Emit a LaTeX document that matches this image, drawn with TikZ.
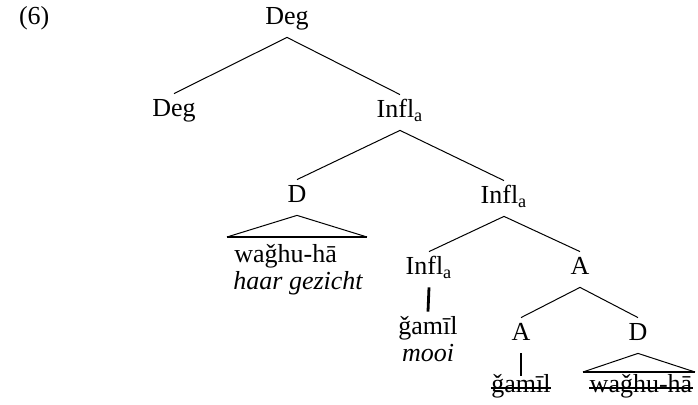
\documentclass[tikz,border=0pt]{standalone}
\usepackage{fontspec}
\setmainfont{Liberation Serif}

\begin{document}
\begin{tikzpicture}[x=0.5pt,y=-0.5pt,
    font=\fontsize{13}{15}\selectfont,
    cat/.style={anchor=base, inner xsep=0pt, inner ysep=3pt, text height=8.5pt, text depth=3pt},
    word/.style={anchor=base, inner xsep=0pt, inner ysep=3pt, text height=8.5pt, text depth=3pt},
    branch/.style={line width=0.5pt},
    stem/.style={line width=1.4pt},
    triabase/.style={line width=1.1pt},
    struck/.style={line width=1.1pt}]
  \useasboundingbox (0,0) rectangle (698,405);

  \node[anchor=base west] (ex) at (12,25) {(6)};

  \node[cat] (deg0) at (287,25) {Deg};
  \node[cat] (deg1) at (174,117) {Deg};
  \node[cat] (infl1) at (400,118) {Infl\textsubscript{a}};
  \node[cat] (d1) at (297,203) {D};
  \node[cat] (infl2) at (504,204) {Infl\textsubscript{a}};
  \node[cat] (infl3) at (429,275) {Infl\textsubscript{a}};
  \node[cat] (a1) at (580,275) {A};
  \node[cat] (a2) at (521,341) {A};
  \node[cat] (d2) at (638,341) {D};

  \node[word, anchor=base west] (w1) at (234,263) {waǧhu-hā};
  \node[word, anchor=base west] (w1gl) at (233,290) {\itshape haar gezicht};
  \node[word] (g1) at (428,335) {ǧamīl};
  \node[word] (g1gl) at (428,362) {\itshape mooi};
  \node[word] (g2) at (521,393) {ǧamīl};
  \node[word] (w2) at (641,393) {waǧhu-hā};

  % branches
  \draw[branch] (deg0.south) -- (deg1.north);
  \draw[branch] (deg0.south) -- (infl1.north);
  \draw[branch] (infl1.south) -- (d1.north);
  \draw[branch] (infl1.south) -- (infl2.north);
  \draw[branch] (infl2.south) -- (infl3.north);
  \draw[branch] (infl2.south) -- (a1.north);
  \draw[branch] (a1.south) -- (a2.north);
  \draw[branch] (a1.south) -- (d2.north);

  \draw[stem] (infl3.south) -- (g1.north);
  \draw[stem, shorten >=-3pt] (a2.south) -- (g2.north);

  % triangles
  \coordinate (t1l) at (227,237);
  \coordinate (t1r) at (367,237);
  \draw[branch] (t1l) -- (d1.south) -- (t1r);
  \draw[triabase] (t1l) -- (t1r);

  \coordinate (t2l) at (583,372);
  \coordinate (t2r) at (695,372);
  \draw[branch] (t2l) -- (d2.south) -- (t2r);
  \draw[triabase] (t2l) -- (t2r);

  % deleted copies
  \draw[struck] ([yshift=2.5pt]g2.base west) -- ([yshift=2.5pt]g2.base east);
  \draw[struck] ([yshift=2.5pt]w2.base west) -- ([yshift=2.5pt]w2.base east);

\end{tikzpicture}
\end{document}
